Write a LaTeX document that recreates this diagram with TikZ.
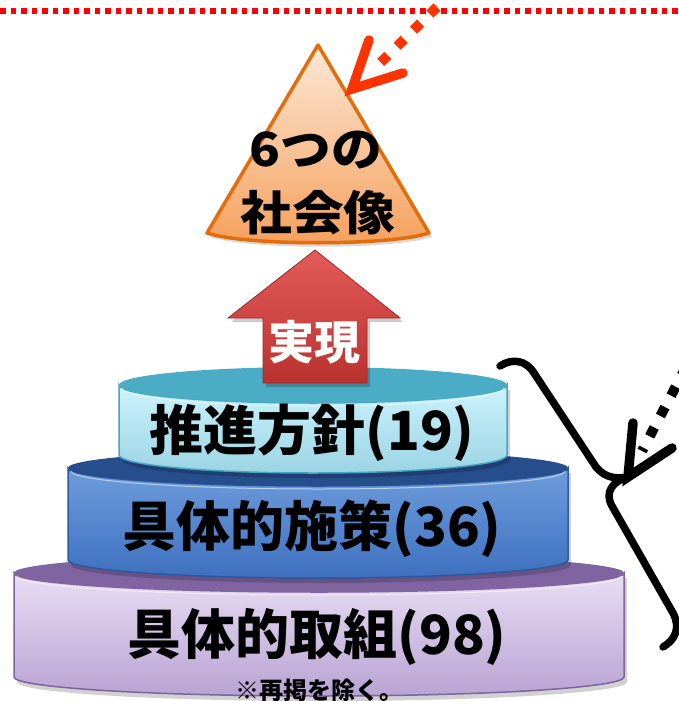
\documentclass[tikz,border=0pt]{standalone}
\usepackage{fontspec}
\newfontfamily\jp{Noto Sans CJK JP}
\definecolor{dotred}{RGB}{255,0,0}
\definecolor{arrred}{RGB}{255,51,0}
\definecolor{conetop}{RGB}{253,232,214}
\definecolor{conebot}{RGB}{245,160,92}
\definecolor{coneedge}{RGB}{228,108,10}
\definecolor{cyantop}{RGB}{75,172,198}
\definecolor{cyanb1}{RGB}{204,243,253}
\definecolor{cyanb2}{RGB}{155,212,228}
\definecolor{cyanedge}{RGB}{70,165,192}
\definecolor{bluetop}{RGB}{38,78,140}
\definecolor{blueb1}{RGB}{110,157,220}
\definecolor{blueb2}{RGB}{62,112,192}
\definecolor{blueedge}{RGB}{44,90,160}
\definecolor{purptop}{RGB}{128,100,162}
\definecolor{purpb1}{RGB}{232,222,244}
\definecolor{purpb2}{RGB}{185,163,211}
\definecolor{purpedge}{RGB}{127,99,160}
\definecolor{redA}{RGB}{228,92,90}
\definecolor{redB}{RGB}{186,50,48}
\definecolor{redE}{RGB}{160,40,38}
\newcommand\mycyl[9]{%
  \fill[black,opacity=0.18] (#1-#2+3,#3+5) -- (#1-#2+3,#4+5) arc[start angle=180,end angle=0,x radius=#2,y radius=#5] -- (#1+#2+3,#3+5) -- cycle;
  \shade[top color=#7,bottom color=#8,draw=#9,line width=1.5pt] (#1-#2,#3) -- (#1-#2,#4) arc[start angle=180,end angle=0,x radius=#2,y radius=#5] -- (#1+#2,#3) arc[start angle=0,end angle=180,x radius=#2,y radius=#5] -- cycle;
  \fill[#6] (#1,#3) ellipse[x radius=#2,y radius=#5];
  \draw[white,opacity=0.55,line width=1pt] (#1-#2+3,#3+3) arc[start angle=180,end angle=0,x radius=#2-3,y radius=#5];
}
\tikzset{
  cyltext/.style={font=\jp\bfseries\fontsize{54}{56}\selectfont, text=black, inner sep=0pt},
  arrowhd/.style={line width=9.5pt, line cap=round, line join=miter},
}
\begin{document}
\begin{tikzpicture}[x=1pt,y=-1pt]
\useasboundingbox (0,0) rectangle (679,701);
% top dotted line
\coordinate (dl) at (0,11);
\coordinate (dr) at (679,11);
\draw[dotred, line width=6pt, dash pattern=on 5.5pt off 5pt] (dl) -- (dr);

% cylinders
\mycyl{319}{305}{573}{677}{19}{purptop}{purpb1}{purpb2}{purpedge}
\mycyl{318}{250}{468}{560}{18}{bluetop}{blueb1}{blueb2}{blueedge}
\mycyl{313}{194}{385}{455}{18}{cyantop}{cyanb1}{cyanb2}{cyanedge}

% red up arrow
\fill[black,opacity=0.2] (318,254) -- (403,322) -- (370,322) -- (370,387) -- (266,387) -- (266,322) -- (231,322) -- cycle;
\shade[top color=redA, bottom color=redB, draw=redE, line width=0.8pt]
  (315,250) -- (400,318) -- (367,318) -- (367,383) -- (263,383) -- (263,318) -- (228,318) -- cycle;
\node[font=\jp\bfseries\fontsize{46}{48}\selectfont, text=white, inner sep=0pt] (jitsugen) at (314,342) {実現};

% cone
\fill[black,opacity=0.15] (321,49) -- (432,237) .. controls (393,250) and (249,250) .. (210,237) -- cycle;
\shade[top color=conetop, bottom color=conebot, draw=coneedge, line width=3.5pt, line join=round]
  (318,45) -- (429,233) .. controls (390,246) and (246,246) .. (207,233) -- cycle;
\node[font=\jp\bfseries\fontsize{47}{50}\selectfont, inner sep=0pt] (six) at (316,150) {\scalebox{1.08}[1]{6つの}};
\node[font=\jp\bfseries\fontsize{47}{50}\selectfont, inner sep=0pt] (shakai) at (318,213) {\scalebox{1.1}[1]{社会像}};

% cylinder texts
\node[cyltext] (suishin) at (312,433) {推進方針(19)};
\node[cyltext] (gutai1) at (312,529) {具体的施策(36)};
\node[cyltext] (gutai2) at (317,637) {具体的取組(98)};
\node[font=\jp\bfseries\fontsize{24}{26}\selectfont, inner sep=0pt] (note) at (319,690) {※再掲を除く。};

% bracket
\coordinate (brA) at (500,366);
\coordinate (btip) at (628,477);
\coordinate (brB) at (663,647);
\draw[line width=7.5pt, line cap=round, line join=round]
  (brA) .. controls (512,358) and (526,360) .. (534,373) -- (596,467)
  .. controls (605,478) and (616,479) .. (btip)
  .. controls (613,481) and (604,492) .. (612,506) -- (673,613)
  .. controls (681,628) and (675,640) .. (brB);

% black dotted arrow
\coordinate (bs) at (697,346);
\coordinate (be) at (642,451);
\draw[line width=10pt, dash pattern=on 10pt off 13pt] (bs) -- (be);
\coordinate (bh1) at (633,423);
\coordinate (bh2) at (672,448);
\draw[arrowhd] (bh1) -- (btip) -- (bh2);

% red dotted arrow
\coordinate (rs) at (437,7);
\coordinate (re) at (373,70);
\coordinate (rtip) at (352,89);
\coordinate (rh1) at (369,40);
\coordinate (rh2) at (403,73);
\draw[arrred, line width=10pt, dash pattern=on 10pt off 13pt] (rs) -- (re);
\draw[arrred, arrowhd] (rh1) -- (rtip) -- (rh2);
\end{tikzpicture}
\end{document}
